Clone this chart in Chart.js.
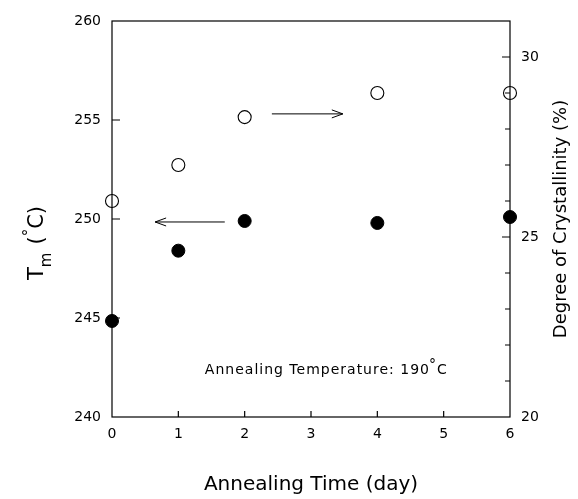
<!DOCTYPE html>
<html>
<head>
<meta charset="utf-8">
<script src="https://cdn.jsdelivr.net/npm/chart.js@4.4.1/dist/chart.umd.min.js"></script>
<style>
  html, body { margin: 0; padding: 0; background: #fff; }
  #wrap { width: 578px; height: 499px; }
</style>
</head>
<body>
<div id="wrap"><canvas id="chart"></canvas></div>
<script>
// data
const days = [0, 1, 2, 4, 6];
const meltingTemp = [244.85, 248.4, 249.9, 249.8, 250.1];   // left axis, filled
const crystallinity = [26.0, 27.0, 28.33, 29.0, 29.0];      // right axis, open
const xTicks = [0, 1, 2, 3, 4, 5, 6];
const leftTicks = [240, 245, 250, 255, 260];
const rightTicks = [20, 25, 30];

const FONT = '"DejaVu Sans", sans-serif';

// arrows in data units: [x from, x to, y, axis]
const arrows = [
  [1.70, 0.65, 249.85, 'y'],
  [2.41, 3.48, 28.42, 'y2']
];

const frameAndTicks = {
  id: 'frameAndTicks',
  afterDraw(chart) {
    const { ctx, chartArea: a, scales } = chart;
    const x = scales.x, y = scales.y, y2 = scales.y2;
    ctx.save();
    ctx.strokeStyle = '#000';
    ctx.lineWidth = 1.2;
    ctx.strokeRect(a.left, a.top, a.right - a.left, a.bottom - a.top);

    ctx.beginPath();
    // x ticks, pointing up
    xTicks.forEach(v => {
      if (v === 0 || v === 6) return;
      const px = x.getPixelForValue(v);
      ctx.moveTo(px, a.bottom);
      ctx.lineTo(px, a.bottom - 6);
    });
    // left ticks, pointing right
    leftTicks.forEach(v => {
      if (v === 240 || v === 260) return;
      const py = y.getPixelForValue(v);
      ctx.moveTo(a.left, py);
      ctx.lineTo(a.left + 8, py);
    });
    // right ticks every 1%, pointing left
    for (let v = 21; v <= 30; v++) {
      const py = y2.getPixelForValue(v);
      const len = rightTicks.includes(v) ? 8 : 5;
      ctx.moveTo(a.right, py);
      ctx.lineTo(a.right - len, py);
    }
    ctx.stroke();

    // arrows
    ctx.lineWidth = 1;
    arrows.forEach(([x0, x1, v, ax]) => {
      const p0 = x.getPixelForValue(x0);
      const p1 = x.getPixelForValue(x1);
      const py = scales[ax].getPixelForValue(v);
      const dir = Math.sign(p1 - p0);
      ctx.beginPath();
      ctx.moveTo(p0, py);
      ctx.lineTo(p1, py);
      ctx.moveTo(p1 - dir * 11, py - 4);
      ctx.lineTo(p1, py);
      ctx.lineTo(p1 - dir * 11, py + 4);
      ctx.stroke();
    });

    // annotation
    ctx.fillStyle = '#000';
    ctx.textBaseline = 'alphabetic';
    ctx.textAlign = 'left';
    ctx.letterSpacing = '1px';
    const tx = x.getPixelForValue(1.4);
    const ty = y.getPixelForValue(242.15);
    const main = 'Annealing Temperature: 190';
    ctx.font = '14px ' + FONT;
    ctx.fillText(main, tx, ty);
    let w = ctx.measureText(main).width;
    ctx.font = '14px ' + FONT;
    ctx.fillText('°', tx + w - 1, ty - 5);
    w += ctx.measureText('°').width;
    ctx.font = '14px ' + FONT;
    ctx.fillText('C', tx + w - 1, ty);
    ctx.letterSpacing = '0px';

    // right axis title, reading bottom to top
    ctx.save();
    ctx.translate(566, (a.top + a.bottom) / 2);
    ctx.rotate(-Math.PI / 2);
    ctx.textAlign = 'center';
    ctx.font = '18px ' + FONT;
    ctx.fillText('Degree of Crystallinity (%)', 0, 0);
    ctx.restore();

    // left axis title T_m (°C)
    ctx.translate(43, 280);
    ctx.rotate(-Math.PI / 2);
    ctx.font = '21px ' + FONT;
    ctx.fillText('T', 0, 0);
    let cx = ctx.measureText('T').width;
    ctx.font = '15px ' + FONT;
    ctx.fillText('m', cx, 8);
    cx += ctx.measureText('m').width + 8;
    ctx.font = '21px ' + FONT;
    ctx.fillText('(', cx, 0);
    cx += ctx.measureText('(').width;
    ctx.font = '15px ' + FONT;
    ctx.fillText('°', cx, -9);
    cx += ctx.measureText('°').width;
    ctx.font = '21px ' + FONT;
    ctx.fillText('C)', cx, 0);
    ctx.restore();
  }
};

new Chart(document.getElementById('chart'), {
  type: 'scatter',
  data: {
    datasets: [
      {
        label: 'Tm',
        data: days.map((d, i) => ({ x: d, y: meltingTemp[i] })),
        yAxisID: 'y',
        pointRadius: 6.5,
        pointBackgroundColor: '#000',
        pointBorderColor: '#000',
        pointBorderWidth: 1
      },
      {
        label: 'Crystallinity',
        data: days.map((d, i) => ({ x: d, y: crystallinity[i] })),
        yAxisID: 'y2',
        pointRadius: 6.5,
        pointBackgroundColor: '#fff',
        pointBorderColor: '#000',
        pointBorderWidth: 1.1
      }
    ]
  },
  options: {
    responsive: true,
    maintainAspectRatio: false,
    animation: false,
    clip: false,
    layout: { padding: { top: 21, left: 0, right: 0, bottom: 0 } },
    plugins: { legend: { display: false }, tooltip: { enabled: false } },
    scales: {
      x: {
        type: 'linear',
        min: 0,
        max: 6,
        afterFit: s => { s.height = 82; },
        afterBuildTicks: s => { s.ticks = xTicks.map(v => ({ value: v })); },
        grid: { display: false, drawTicks: false },
        border: { display: false },
        ticks: { color: '#000', padding: 9, font: { family: FONT, size: 14 } },
        title: {
          display: true,
          text: 'Annealing Time (day)',
          color: '#000',
          font: { family: FONT, size: 20 },
          padding: { top: 0, bottom: 2 }
        }
      },
      y: {
        type: 'linear',
        position: 'left',
        min: 240,
        max: 260,
        afterFit: s => { s.width = 112; },
        afterBuildTicks: s => { s.ticks = leftTicks.map(v => ({ value: v })); },
        grid: { display: false, drawTicks: false },
        border: { display: false },
        ticks: { color: '#000', padding: 11, font: { family: FONT, size: 14 } }
      },
      y2: {
        type: 'linear',
        position: 'right',
        min: 20,
        max: 31,
        afterFit: s => { s.width = 68; },
        afterBuildTicks: s => { s.ticks = rightTicks.map(v => ({ value: v })); },
        grid: { display: false, drawTicks: false },
        border: { display: false },
        ticks: { color: '#000', padding: 11, font: { family: FONT, size: 14 } }
      }
    }
  },
  plugins: [frameAndTicks]
});
</script>
</body>
</html>
